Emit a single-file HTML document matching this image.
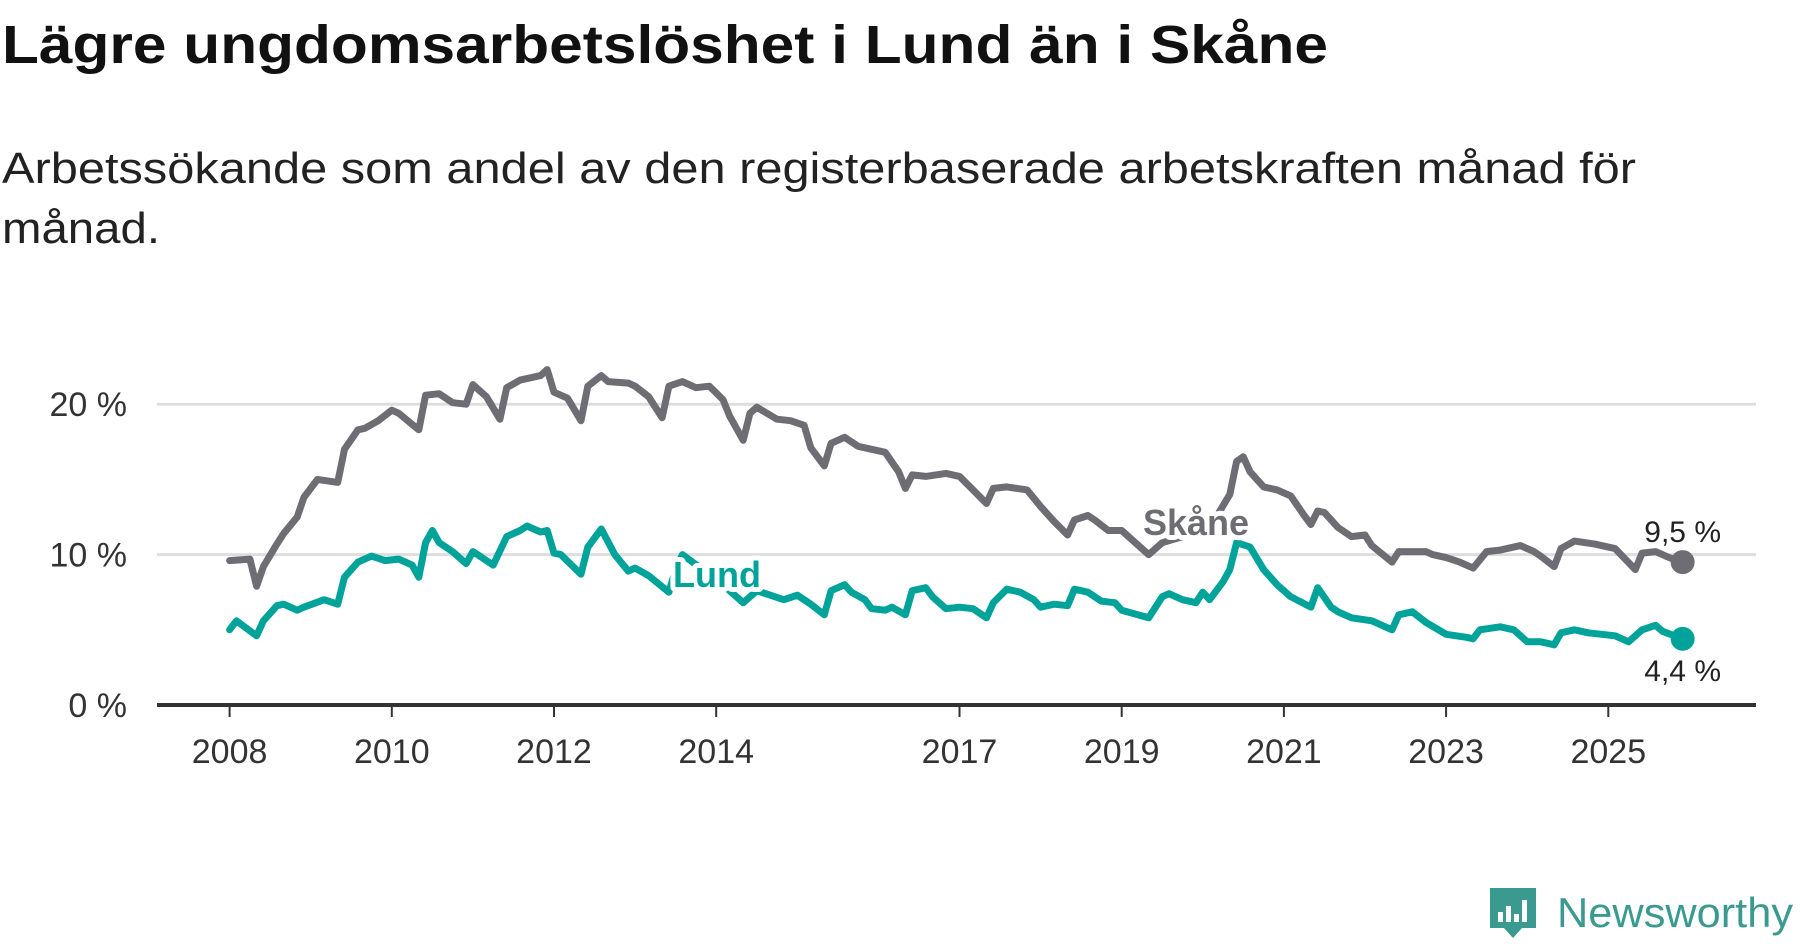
<!DOCTYPE html>
<html><head><meta charset="utf-8"><style>
html,body{margin:0;padding:0;background:#fff;}
svg{display:block;font-family:"Liberation Sans",sans-serif;}
</style></head><body>
<svg id="chart" width="1800" height="948" viewBox="0 0 1800 948" xmlns="http://www.w3.org/2000/svg">
<text x="2" y="63" font-size="54" font-weight="bold" fill="#111" textLength="1326" lengthAdjust="spacingAndGlyphs">Lägre ungdomsarbetslöshet i Lund än i Skåne</text>
<text x="2" y="183" font-size="44" fill="#222" textLength="1634" lengthAdjust="spacingAndGlyphs">Arbetssökande som andel av den registerbaserade arbetskraften månad för</text>
<text x="2" y="243" font-size="44" fill="#222" textLength="158" lengthAdjust="spacingAndGlyphs">månad.</text>
<g id="grid"></g>
<g id="series"></g>
<g id="axis"></g>
<g>
<path d="M1490 888 h46 v40 h-14 l-9 10 l-9 -10 h-14 z" fill="#3a9a8f"/>
<rect x="1498" y="912" width="5" height="10" fill="#fff"/>
<rect x="1506" y="906" width="5" height="16" fill="#fff"/>
<rect x="1514" y="914" width="5" height="8" fill="#fff"/>
<rect x="1522" y="900" width="5" height="22" fill="#fff"/>
<text x="1557" y="927" font-size="42" fill="#3a9a8f" textLength="236" lengthAdjust="spacingAndGlyphs">Newsworthy</text>
</g>
</svg>
<script>
const yTicks = [0, 10, 20];
const yTickLabels = ["0 %", "10 %", "20 %"];
const xTickYears = [2008, 2010, 2012, 2014, 2017, 2019, 2021, 2023, 2025];
const skaneMonths = [0,3,4,5,7,8,10,11,13,16,17,19,20,22,24,25,28,29,31,33,35,36,38,40,41,43,46,47,48,50,52,53,55,56,59,60,62,64,65,67,69,71,73,74,76,77,78,81,83,85,86,88,89,91,93,95,97,99,100,101,103,106,108,110,112,113,115,118,120,122,124,125,127,128,130,132,134,136,138,141,143,146,148,149,150,151,153,155,157,159,160,161,162,164,166,168,169,172,173,177,178,180,182,184,186,188,191,193,194,196,197,199,202,205,208,209,211,213,215];
const skaneValues = [9.6,9.7,7.9,9.2,10.7,11.4,12.5,13.8,15.0,14.8,17.0,18.3,18.4,18.9,19.6,19.4,18.3,20.6,20.7,20.1,20.0,21.3,20.5,19.0,21.1,21.6,21.9,22.3,20.8,20.4,18.9,21.2,21.9,21.5,21.4,21.2,20.5,19.1,21.2,21.5,21.1,21.2,20.3,19.2,17.6,19.4,19.8,19.0,18.9,18.6,17.1,15.9,17.4,17.8,17.2,17.0,16.8,15.5,14.4,15.3,15.2,15.4,15.2,14.3,13.4,14.4,14.5,14.3,13.2,12.2,11.3,12.3,12.6,12.3,11.6,11.6,10.8,10.0,10.8,11.2,11.4,12.5,14.0,16.2,16.5,15.5,14.5,14.3,13.9,12.6,12.0,12.9,12.8,11.8,11.2,11.3,10.6,9.5,10.2,10.2,10.0,9.8,9.5,9.1,10.2,10.3,10.6,10.2,9.9,9.2,10.4,10.9,10.7,10.4,9.0,10.1,10.2,9.8,9.5];
const lundMonths = [0,1,4,5,7,8,10,11,14,16,17,19,21,23,25,27,28,29,30,31,33,35,36,37,39,41,43,44,46,47,48,49,52,53,55,57,59,60,62,65,66,67,73,76,78,80,82,84,86,88,89,91,92,94,95,97,98,100,101,103,104,106,108,110,112,113,115,117,119,120,122,124,125,127,129,131,132,136,138,139,141,143,144,145,147,148,149,151,153,155,157,160,161,163,164,166,169,172,173,175,177,180,183,184,185,188,190,192,194,196,197,199,201,203,205,207,209,211,212,215];
const lundValues = [5.0,5.6,4.6,5.6,6.6,6.7,6.3,6.5,7.0,6.7,8.5,9.5,9.9,9.6,9.7,9.3,8.5,10.8,11.6,10.8,10.2,9.4,10.2,9.9,9.3,11.2,11.6,11.9,11.5,11.6,10.1,10.0,8.7,10.5,11.7,10.0,8.9,9.1,8.6,7.5,9.0,10.0,8.0,6.8,7.6,7.3,7.0,7.3,6.7,6.0,7.6,8.0,7.5,7.0,6.4,6.3,6.5,6.0,7.6,7.8,7.2,6.4,6.5,6.4,5.8,6.8,7.7,7.5,7.0,6.5,6.7,6.6,7.7,7.5,6.9,6.8,6.3,5.8,7.2,7.4,7.0,6.8,7.5,7.0,8.2,9.0,10.8,10.5,9.0,8.0,7.2,6.5,7.8,6.5,6.2,5.8,5.6,5.0,6.0,6.2,5.5,4.7,4.5,4.4,5.0,5.2,5.0,4.2,4.2,4.0,4.8,5.0,4.8,4.7,4.6,4.2,5.0,5.3,4.9,4.4];
const lastLabels = ["9,5 %", "4,4 %"];

const NS = "http://www.w3.org/2000/svg";
const X0 = 229.6, PX_PER_MONTH = 81.1 / 12;
const Y0 = 705, PX_PER_UNIT = 15.04;
function xMonth(m){ return X0 + m * PX_PER_MONTH; }
function xYear(y){ return xMonth((y - 2008) * 12); }
function yVal(v){ return Y0 - v * PX_PER_UNIT; }
function mk(tag, attrs, parent){ const e = document.createElementNS(NS, tag); for (const k in attrs) e.setAttribute(k, attrs[k]); parent.appendChild(e); return e; }

const grid = document.getElementById('grid');
yTicks.forEach((t, i) => {
  if (t !== 0) {
    const l = mk('line', {x1:157, x2:1756, y1:yVal(t), y2:yVal(t), stroke:'#dedede', 'stroke-width':3}, grid);
    
    
  }
  const tx = mk('text', {x:127, y:yVal(t)+12, 'text-anchor':'end', 'font-size':34, fill:'#333'}, grid);
  tx.textContent = yTickLabels[i];
  
  
});

const axis = document.getElementById('axis');
const al = mk('line', {x1:157, x2:1756, y1:Y0, y2:Y0, stroke:'#333', 'stroke-width':4}, axis);


xTickYears.forEach(yr => {
  const x = xYear(yr);
  const tk = mk('line', {x1:x, x2:x, y1:Y0, y2:Y0+12, stroke:'#333', 'stroke-width':2}, axis);
  
  
  const tl = mk('text', {x:x, y:763, 'text-anchor':'middle', 'font-size':34, fill:'#333'}, axis);
  tl.textContent = yr;
  
  
});

const series = document.getElementById('series');
function drawLine(months, vals, color, name){
  const d = months.map((m, i) => (i ? 'L' : 'M') + xMonth(m).toFixed(1) + ' ' + yVal(vals[i]).toFixed(1)).join(' ');
  const p = mk('path', {d:d, fill:'none', stroke:color, 'stroke-width':7, 'stroke-linejoin':'round', 'stroke-linecap':'round'}, series);
  
  
  const li = months.length - 1;
  const c = mk('circle', {cx:xMonth(months[li]), cy:yVal(vals[li]), r:12, fill:color}, series);
  
  
}
drawLine(skaneMonths, skaneValues, '#6e6d73', 'skane');
drawLine(lundMonths, lundValues, '#00a39a', 'lund');

function seriesLabel(txt, x, y, color, name){
  const t = mk('text', {x:x, y:y, 'text-anchor':'middle', 'font-size':36, 'font-weight':'bold', fill:color, stroke:'#fff', 'stroke-width':10, 'paint-order':'stroke', 'stroke-linejoin':'round'}, series);
  t.textContent = txt;
  
  
}
seriesLabel('Skåne', 1196, 535, '#6e6d73', 'skane-label');
seriesLabel('Lund', 717, 587, '#00a39a', 'lund-label');

const sl = skaneMonths.length - 1, ll = lundMonths.length - 1;
const v1 = mk('text', {x:xMonth(skaneMonths[sl]), y:yVal(skaneValues[sl]) - 20, 'text-anchor':'middle', 'font-size':30, fill:'#222'}, series);
v1.textContent = lastLabels[0];


const v2 = mk('text', {x:xMonth(lundMonths[ll]), y:yVal(lundValues[ll]) + 42, 'text-anchor':'middle', 'font-size':30, fill:'#222'}, series);
v2.textContent = lastLabels[1];


</script>
</body></html>
